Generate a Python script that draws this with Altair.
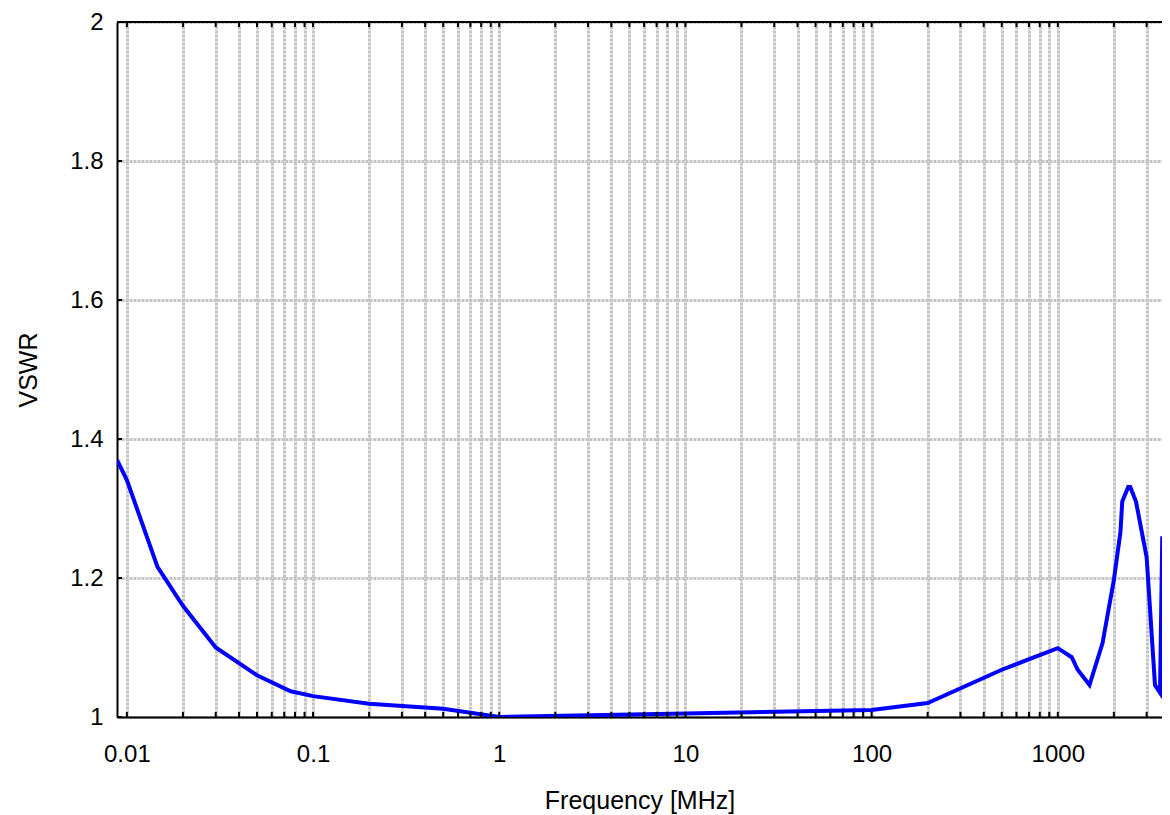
import altair as alt
import pandas as pd

# Curve
freq = [0.00885, 0.01, 0.0146, 0.02, 0.03, 0.05, 0.0758, 0.1, 0.2, 0.5, 1, 10, 100, 200,
        500, 1000, 1188, 1279, 1480, 1738, 2000, 2170, 2219, 2389, 2450, 2630, 3000,
        3327, 3540, 3640]
vswr = [1.37, 1.341, 1.216, 1.16, 1.10, 1.06, 1.037, 1.03, 1.019, 1.012, 1.0, 1.005, 1.01, 1.02,
        1.068, 1.099, 1.086, 1.068, 1.046, 1.106, 1.197, 1.266, 1.31, 1.331, 1.331, 1.31, 1.23,
        1.046, 1.035, 1.26]

x_domain = [0.00885, 3628]
y_domain = [1, 2]
decades = [0.01, 0.1, 1, 10, 100, 1000]
x_grid = [round(m * d, 6) for d in decades for m in range(1, 10) if m * d <= x_domain[1]]
y_ticks = [1, 1.2, 1.4, 1.6, 1.8, 2]

W, H = 1045, 695

df = pd.DataFrame({"f": freq, "v": vswr})
xt = pd.DataFrame({"t": x_grid})
yt = pd.DataFrame({"t": y_ticks})

FONT = "Liberation Sans"
GRID = "#c4c4c4"
xscale = alt.Scale(type="log", domain=x_domain)
yscale = alt.Scale(domain=y_domain)

label_expr = ("indexof(['0.01','0.1','1','10','100','1000'], format(datum.value,'~g')) >= 0 "
              "? format(datum.value,'~g') : ''")

line = alt.Chart(df).mark_line(color="#0000ff", strokeWidth=4, clip=True).encode(
    x=alt.X("f:Q", scale=xscale, title="Frequency [MHz]",
            axis=alt.Axis(values=x_grid, labelExpr=label_expr, labelOverlap=False,
                          grid=True, gridColor=GRID, gridWidth=3, gridDash=[3, 1],
                          domain=True, domainColor="black", domainWidth=2, ticks=False,
                          labelPadding=25, labelFontSize=24, labelFont=FONT, labelColor="black",
                          labelFlush=False,
                          titleFontSize=25, titleFont=FONT, titleFontWeight="normal",
                          titleColor="black", titleBaseline="alphabetic", titleY=91)),
    y=alt.Y("v:Q", scale=yscale, title="VSWR",
            axis=alt.Axis(values=y_ticks, format="~g", grid=True, gridColor=GRID,
                          gridWidth=3, gridDash=[3, 1], domain=True, domainColor="black",
                          domainWidth=2, ticks=False, labelPadding=14, labelFontSize=24,
                          labelFont=FONT, labelColor="black",
                          titleFontSize=25, titleFont=FONT, titleFontWeight="normal",
                          titleColor="black", titleX=-89, titleBaseline="middle")),
)

top_border = alt.Chart(yt).mark_rule(color="black", strokeWidth=2).encode(
    y=alt.value(0), x=alt.value(0), x2=alt.value(W))

top_ticks = alt.Chart(xt).mark_rule(color="black", strokeWidth=2).encode(
    x=alt.X("t:Q", scale=xscale), y=alt.value(0), y2=alt.value(5))

bottom_ticks = alt.Chart(xt).mark_rule(color="black", strokeWidth=2).encode(
    x=alt.X("t:Q", scale=xscale), y=alt.value(H), y2=alt.value(H - 5))

left_ticks = alt.Chart(yt).mark_rule(color="black", strokeWidth=2).encode(
    y=alt.Y("t:Q", scale=yscale), x=alt.value(0), x2=alt.value(5))

chart = alt.layer(line, top_border, top_ticks, bottom_ticks, left_ticks).properties(
    width=W, height=H,
    autosize=alt.AutoSizeParams(type="none"),
    padding={"left": 109, "top": 14, "right": 0, "bottom": 98},
).configure_view(strokeWidth=0).configure(background="white")

chart.save("out.html", embed_options={"renderer": "svg", "actions": False})
